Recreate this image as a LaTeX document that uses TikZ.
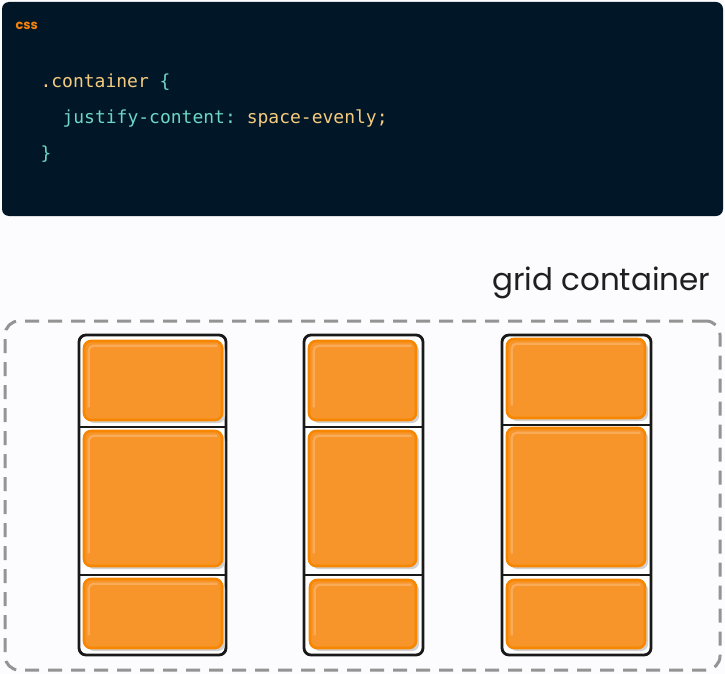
\documentclass[tikz,border=0pt]{standalone}
\usepackage{fontspec}
\setmainfont{Poppins}
\setmonofont{DejaVu Sans Mono}
\usetikzlibrary{positioning,shadows}

\definecolor{codebg}{HTML}{011627}
\definecolor{codeteal}{HTML}{6ED6C6}
\definecolor{codeyellow}{HTML}{F4CB7E}
\definecolor{cssorange}{HTML}{F5820A}
\definecolor{itemfill}{HTML}{F7952B}
\definecolor{itemline}{HTML}{F78600}
\definecolor{pagebg}{HTML}{FCFBFD}

\begin{document}
\begin{tikzpicture}[x=1pt,y=-1pt,
    colbox/.style={draw=black!90,line width=2.8pt,fill=white,rounded corners=7pt},
    item/.style={draw=itemline,line width=2.6pt,fill=itemfill,rounded corners=7pt,
      drop shadow={shadow xshift=3pt,shadow yshift=-3pt,fill=black!18,opacity=1}},
    shine/.style={draw=white,opacity=0.22,line width=2.2pt,rounded corners=5pt},
    sep/.style={draw=black!90,line width=2.6pt},
    code/.style={anchor=base west,font=\ttfamily\fontsize{18}{21}\selectfont}]
    \useasboundingbox (0,0) rectangle (725,674);
    \fill[pagebg] (0,0) rectangle (725,674);

    % code block
    \node[fill=codebg,rounded corners=7pt,minimum width=721,minimum height=214] (codebox) at (362.5,109) {};
    \node[anchor=base west,text=cssorange,font=\bfseries\fontsize{13}{15}\selectfont] (lang) at (12,30) {css};
    \node[code] (line1) at (37,88) {\textcolor{codeyellow}{.container} \textcolor{codeteal}{\{}};
    \node[code] (line2) at (59,124) {\textcolor{codeteal}{justify-content:} \textcolor{codeyellow}{space-evenly;}};
    \node[code] (line3) at (37,159) {\textcolor{codeteal}{\}}};

    % grid container
    \node[anchor=base east,font=\fontsize{31}{36}\selectfont,text=black!88] (title) at (714,290) {grid container};
    \node[draw=black!42,line width=3pt,dash pattern=on 14pt off 9pt,rounded corners=14pt,
      minimum width=715,minimum height=349] (grid) at (362.5,495.5) {};

    % columns
    \node[colbox,minimum width=147,minimum height=320] (col1) at (152.5,495) {};
    \node[colbox,minimum width=119,minimum height=320] (col2) at (363.5,495) {};
    \node[colbox,minimum width=149,minimum height=320] (col3) at (576.5,495) {};

    \coordinate (cut11) at (0,427);
    \coordinate (cut12) at (0,575);
    \coordinate (cut21) at (0,427);
    \coordinate (cut22) at (0,575);
    \coordinate (cut31) at (0,425);
    \coordinate (cut32) at (0,575);
    \foreach \c in {1,2,3}
      \foreach \s in {1,2}
        \draw[sep] (col\c.west |- cut\c\s) -- (col\c.east |- cut\c\s);

    % items
    \node[item,minimum width=138,minimum height=79] (item11) at (153,380.5) {};
    \node[item,minimum width=138,minimum height=135] (item12) at (153,498.5) {};
    \node[item,minimum width=138,minimum height=69] (item13) at (153,613.5) {};

    \node[item,minimum width=107,minimum height=79] (item21) at (362.5,380.5) {};
    \node[item,minimum width=107,minimum height=135] (item22) at (362.5,498.5) {};
    \node[item,minimum width=106,minimum height=68] (item23) at (363,614) {};

    \node[item,minimum width=138,minimum height=79] (item31) at (576,378.5) {};
    \node[item,minimum width=138,minimum height=138] (item32) at (576,497) {};
    \node[item,minimum width=138,minimum height=68] (item33) at (576,614) {};

    % light edge along top and left of each item
    \foreach \i in {item11,item12,item13,item21,item22,item23,item31,item32,item33}
      \draw[shine] ([shift={(6pt,14pt)}]\i.south west) -- ([shift={(6pt,-6pt)}]\i.north west)
        -- ([shift={(-6pt,-6pt)}]\i.north east);
\end{tikzpicture}
\end{document}
